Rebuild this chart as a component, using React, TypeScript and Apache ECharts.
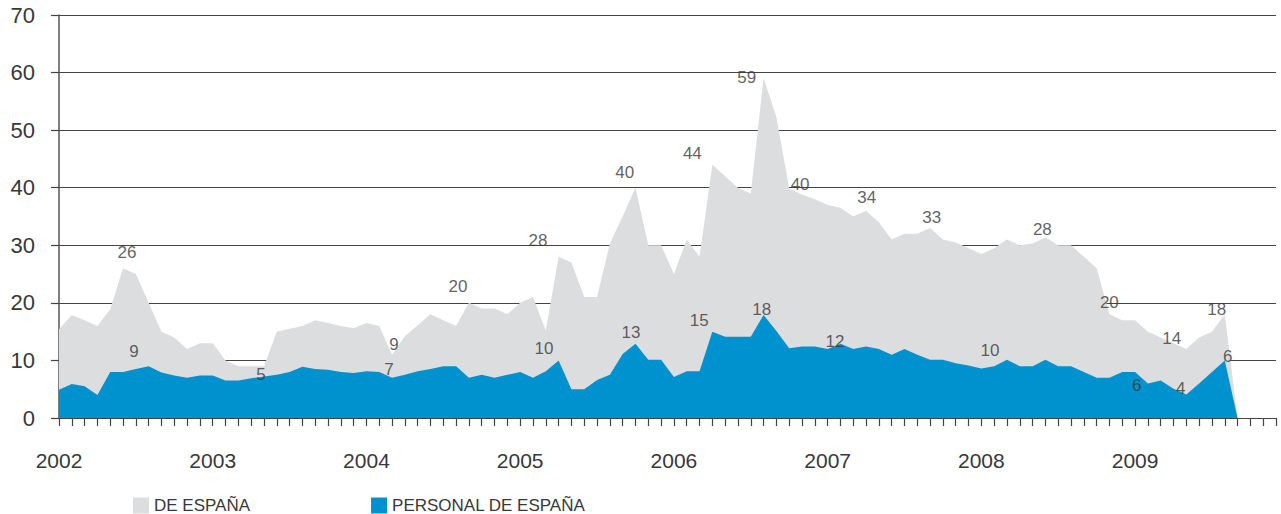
import React, { useEffect, useRef } from "react";
import * as echarts from "echarts";

// Monthly values, Jan of each year onward (DE ESPAÑA = grey, PERSONAL DE ESPAÑA = blue)
const grey2002 = [15.4, 17.9, 17, 16, 18.9, 26, 25, 20, 15, 14, 12, 13];
const grey2003 = [13, 10, 9, 9, 9, 15, 15.5, 16, 17, 16.5, 16, 15.6];
const grey2004 = [16.5, 16, 11, 14.2, 16.1, 18, 17, 16, 20, 19, 19, 18];
const grey2005 = [20, 21, 15.2, 28, 27, 21, 21, 30.3, 35, 40, 30, 30];
const grey2006 = [25, 31, 28, 44, 42, 40, 39, 59, 52.3, 39.8, 38.8, 38];
const grey2007 = [37, 36.5, 35, 36, 34, 31, 32, 32, 33, 31, 30.5, 29.5];
const grey2008 = [28.5, 29.5, 31, 30, 30.3, 31.4, 30, 30, 28, 26, 18, 17];
const grey2009 = [17, 15, 14, 13, 12, 14, 15, 18, 0];

const blue2002 = [4.9, 5.9, 5.5, 4, 8, 8, 8.5, 9, 7.9, 7.4, 7, 7.4];
const blue2003 = [7.4, 6.5, 6.5, 6.9, 7.2, 7.5, 8, 8.9, 8.5, 8.4, 8, 7.8];
const blue2004 = [8.1, 8, 7, 7.5, 8.1, 8.5, 9, 9, 7, 7.5, 7, 7.5];
const blue2005 = [8, 7, 8.1, 10, 5, 5, 6.6, 7.5, 11.1, 12.9, 10.1, 10.1];
const blue2006 = [7.1, 8.1, 8.1, 15, 14.1, 14.1, 14.1, 17.9, 15.1, 12.1, 12.4, 12.4];
const blue2007 = [12, 12.9, 12, 12.4, 12, 11, 12, 11, 10.1, 10.1, 9.5, 9.1];
const blue2008 = [8.6, 9, 10.1, 9, 9, 10.1, 9, 9, 8, 7, 7, 8];
const blue2009 = [8, 6, 6.5, 5.1, 4.1, 6, 8, 10, 0];

const years = [2002, 2003, 2004, 2005, 2006, 2007, 2008, 2009];
const monthCount = 96;

// Annotations: text, month position, value position
const noteTexts = ["26", "9", "5", "9", "7", "20", "28", "10", "40", "13", "44", "15", "59", "18", "40", "12", "34", "33", "28", "10", "20", "14", "6", "4", "18", "6"];
const noteX = [5.31, 5.85, 15.77, 26.15, 25.76, 31.15, 37.39, 37.86, 44.16, 44.65, 49.44, 49.98, 53.68, 54.86, 57.85, 60.58, 63.05, 68.13, 76.76, 72.68, 81.99, 86.86, 84.13, 87.56, 90.37, 91.23];
const noteY = [28.8, 11.5, 7.5, 12.7, 8.5, 22.8, 30.8, 12.0, 42.6, 14.8, 45.9, 17.0, 59.1, 18.9, 40.6, 13.3, 38.3, 34.9, 32.7, 11.7, 20.0, 13.8, 5.7, 5.2, 18.9, 10.6];

const greyValues = [...grey2002, ...grey2003, ...grey2004, ...grey2005, ...grey2006, ...grey2007, ...grey2008, ...grey2009];
const blueValues = [...blue2002, ...blue2003, ...blue2004, ...blue2005, ...blue2006, ...blue2007, ...blue2008, ...blue2009];

const FONT = "Liberation Sans, Arial, sans-serif";
const TEXT = "#383838";
const GREY = "#dcdddf";
const BLUE = "#0092cf";

export default function App() {
  const ref = useRef<HTMLDivElement>(null);
  useEffect(() => {
    if (!ref.current) return;
    const chart = echarts.init(ref.current, null, { renderer: "svg" });
    chart.setOption({
      animation: false,
      backgroundColor: "#ffffff",
      grid: { left: 59, right: 5, top: 15, bottom: 96, containLabel: false },
      legend: {
        data: ["DE ESPAÑA", "PERSONAL DE ESPAÑA"],
        left: 133,
        top: 497,
        padding: 0,
        icon: "rect",
        itemWidth: 16,
        itemHeight: 16,
        itemGap: 121,
        textStyle: { fontFamily: FONT, fontSize: 17, color: TEXT },
      },
      xAxis: {
        type: "value",
        min: 0,
        max: monthCount - 1,
        interval: 1,
        axisLine: { show: true, lineStyle: { color: "#444", width: 1.2 } },
        axisTick: { show: true, length: 8, lineStyle: { color: "#444", width: 1.2 } },
        splitLine: { show: false },
        axisLabel: {
          margin: 32,
          fontFamily: FONT,
          fontSize: 21,
          color: TEXT,
          showMinLabel: true,
          showMaxLabel: true,
          formatter: (v: number) => {
            const i = Math.round(v);
            return i % 12 === 0 && i / 12 < years.length ? String(years[i / 12]) : "";
          },
        },
      },
      yAxis: {
        type: "value",
        min: 0,
        max: 70,
        interval: 10,
        axisLine: { show: true, lineStyle: { color: "#555", width: 1.5 } },
        axisTick: { show: true, length: 8, lineStyle: { color: "#444", width: 1.2 } },
        splitLine: { show: true, lineStyle: { color: "#444", width: 1.2 } },
        axisLabel: {
          margin: 24,
          fontFamily: FONT,
          fontSize: 22,
          color: TEXT,
          padding: [10, 0, 0, 0],
        },
      },
      series: [
        {
          name: "DE ESPAÑA",
          type: "line",
          data: greyValues.map((v, i) => [i, v]),
          symbol: "none",
          lineStyle: { width: 0 },
          itemStyle: { color: GREY },
          areaStyle: { color: GREY, opacity: 1 },
          z: 2,
        },
        {
          name: "PERSONAL DE ESPAÑA",
          type: "line",
          data: blueValues.map((v, i) => [i, v]),
          symbol: "none",
          lineStyle: { width: 0 },
          itemStyle: { color: BLUE },
          areaStyle: { color: BLUE, opacity: 1 },
          z: 3,
        },
        {
          name: "notes",
          type: "scatter",
          data: noteTexts.map((t, i) => ({ value: [noteX[i], noteY[i]], name: t })),
          symbolSize: 2,
          itemStyle: { color: "rgba(0,0,0,0)" },
          silent: true,
          z: 5,
          labelLayout: { hideOverlap: false },
          label: {
            show: true,
            position: "inside",
            formatter: (p: any) => p.name,
            fontFamily: FONT,
            fontSize: 17,
            color: TEXT,
            textBorderWidth: 0,
            textBorderColor: "transparent",
          },
        },
      ],
    });
    return () => chart.dispose();
  }, []);
  return (
    <div
      ref={ref}
      style={{ position: "fixed", left: 0, top: 0, width: 1281, height: 514 }}
    />
  );
}
